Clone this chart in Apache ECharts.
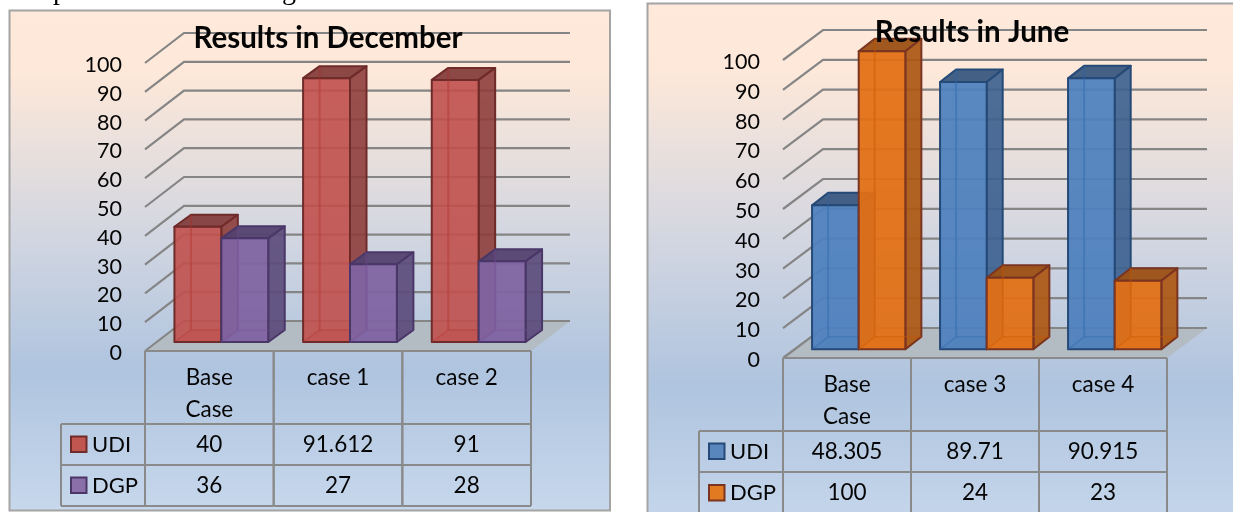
<!DOCTYPE html>
<html>
<head>
<meta charset="utf-8">
<title>Results in December and June</title>
<script src="https://cdn.jsdelivr.net/npm/echarts@6/dist/echarts.min.js"></script>
<style>html,body{margin:0;padding:0;background:#fff}#chart{width:1233px;height:512px}</style>
</head>
<body>
<div id="chart"></div>
<script>
// Values shown in the two data tables
const seriesNames = ['UDI', 'DGP'];
const decemberCategories = ['Base\nCase', 'case 1', 'case 2'];
const decemberUDI = [40, 91.612, 91];
const decemberDGP = [36, 27, 28];
const juneCategories = ['Base\nCase', 'case 3', 'case 4'];
const juneUDI = [48.305, 89.71, 90.915];
const juneDGP = [100, 24, 23];
const axisTicks = [0, 10, 20, 30, 40, 50, 60, 70, 80, 90, 100];

const FONT = 'Lato, "Open Sans", sans-serif';
const TEXT = '#050505';
const RULE = '#8a8a8a';

// Fill, side, top and outline shades for each bar colour
const red = { front: 'rgba(192,80,77,0.9)', side: 'rgba(142,62,60,0.9)', top: 'rgba(130,58,56,0.92)', line: '#6e2b29', inner: 'rgba(176,56,52,0.5)', floor: 'rgba(180,64,60,0.35)', solid: '#c0564f' };
const purple = { front: 'rgba(128,100,162,0.94)', side: 'rgba(92,76,124,0.92)', top: 'rgba(84,66,112,0.95)', line: '#4a3768', inner: 'rgba(120,80,150,0.5)', floor: 'rgba(110,80,145,0.35)', solid: '#8a6fa8' };
const blue = { front: 'rgba(79,129,189,0.94)', side: 'rgba(62,98,144,0.92)', top: 'rgba(58,88,128,0.95)', line: '#254a78', inner: 'rgba(50,105,170,0.55)', floor: 'rgba(60,110,170,0.35)', solid: '#5a86be' };
const orange = { front: 'rgba(226,112,20,0.94)', side: 'rgba(172,88,20,0.93)', top: 'rgba(156,80,20,0.95)', line: '#7a3420', inner: 'rgba(200,90,10,0.55)', floor: 'rgba(200,90,20,0.35)', solid: '#e27a22' };

const panels = [
  {
    title: 'Results in December', titleX: 323, titleY: 33,
    box: { x: 9.5, y: 10.5, width: 600.5, height: 500 },
    grid: { left: 145, top: 63, width: 386, height: 288 },
    categories: decemberCategories, rows: [decemberUDI, decemberDGP], palette: [red, purple],
    rowY: [424, 465, 506], legendX: 61, bottomOpen: false,
    wall: [39, -30], lift: 9, shift: 12, bar: [16.5, -12]
  },
  {
    title: 'Results in June', titleX: 967, titleY: 27,
    box: { x: 647.5, y: 3.5, width: 600, height: 530 },
    grid: { left: 783, top: 60, width: 384, height: 298 },
    categories: juneCategories, rows: [juneUDI, juneDGP], palette: [blue, orange],
    rowY: [431, 472, 514], legendX: 699, bottomOpen: true,
    wall: [40, -30], lift: 8.7, shift: 11.7, bar: [16, -12.5]
  }
];

const poly = (points, fill, stroke, lineWidth) => ({
  type: 'polygon', shape: { points },
  style: { fill: fill || 'none', stroke: stroke || 'none', lineWidth: lineWidth || 0, lineJoin: 'round' }
});
const rule = (x1, y1, x2, y2) => ({
  type: 'line', shape: { x1, y1, x2, y2 }, style: { stroke: RULE, lineWidth: 2 }
});

// Receding gridlines and the grey floor of the 3D plot
function renderWalls(p) {
  return (params, api) => {
    const v = api.value(1);
    const [x, y] = api.coord([0, v]);
    const left = p.grid.left;
    const right = left + p.grid.width;
    const [dx, dy] = p.wall;
    const children = [];
    if (v === 0) {
      children.push(poly([[left, y], [left + dx, y + dy], [right + dx, y + dy], [right, y]], '#b3bcc3'));
    }
    children.push({
      type: 'polyline',
      shape: { points: [[left, y], [left + dx, y + dy], [right + dx, y + dy]] },
      style: { fill: 'none', stroke: '#858585', lineWidth: 2.2 }
    });
    return { type: 'group', children };
  };
}

// One translucent 3D bar, placed from its category and value
function renderBar(p, seriesIndex) {
  const c = p.palette[seriesIndex];
  return (params, api) => {
    const cat = api.value(0);
    const base = api.coord([cat, 0]);
    const head = api.coord([cat, api.value(1)]);
    const band = api.size([1, 0])[0];
    const w = band * 0.3645;
    const x0 = base[0] + p.shift - w + seriesIndex * w;
    const x1 = x0 + w;
    const yb = base[1] - p.lift;
    const yt = head[1] - p.lift;
    const [dx, dy] = p.bar;
    return {
      type: 'group',
      children: [
        poly([[x0, yb], [x1, yb], [x1 + dx, yb + dy], [x0 + dx, yb + dy]], c.floor, c.inner, 1.5),
        { type: 'line', shape: { x1: x0 + dx, y1: yb + dy, x2: x0 + dx, y2: yt + dy }, style: { stroke: c.inner, lineWidth: 2 } },
        poly([[x0, yt], [x1, yt], [x1 + dx, yt + dy], [x0 + dx, yt + dy]], c.top, c.line, 2),
        poly([[x1, yb], [x1 + dx, yb + dy], [x1 + dx, yt + dy], [x1, yt]], c.side, c.line, 2),
        poly([[x0, yb], [x1, yb], [x1, yt], [x0, yt]], c.front, c.line, 2),
        { type: 'line', shape: { x1: x0 + dx, y1: yb + dy, x2: x0 + dx, y2: yt + dy }, style: { stroke: c.inner, lineWidth: 2, opacity: 0.7 } },
        { type: 'line', shape: { x1: x0, y1: yb, x2: x0 + dx, y2: yb + dy }, style: { stroke: c.inner, lineWidth: 1.5, opacity: 0.6 } },
        { type: 'line', shape: { x1: x0 + dx, y1: yb + dy, x2: x1 + dx, y2: yb + dy }, style: { stroke: c.inner, lineWidth: 1.5, opacity: 0.6 } }
      ]
    };
  };
}

const cellText = (text, x, y) => ({
  type: 'text',
  style: { text, x, y, font: '22.5px ' + FONT, fill: TEXT, align: 'center', verticalAlign: 'middle', lineHeight: 32 }
});

// One column of the data table under each category
function renderTableColumn(p) {
  return (params, api) => {
    const i = api.value(0);
    const [cx, y0] = api.coord([i, 0]);
    const band = api.size([1, 0])[0];
    const xl = cx - band / 2;
    const xr = cx + band / 2;
    const [r1, r2, r3] = p.rowY;
    const lines = p.categories[i].split('\n');
    const children = [
      rule(xl, y0, xr, y0),
      rule(xl, y0, xl, r3),
      rule(xr, y0, xr, r3),
      rule(xl, r1, xr, r1),
      rule(xl, r2, xr, r2)
    ];
    if (!p.bottomOpen) children.push(rule(xl, r3, xr, r3));
    lines.forEach((t, k) => children.push(cellText(t, cx, y0 + 27 + k * 32)));
    children.push(cellText(String(p.rows[0][i]), cx, (r1 + r2) / 2));
    children.push(cellText(String(p.rows[1][i]), cx, (r2 + r3) / 2));
    return { type: 'group', children };
  };
}

// Panel backgrounds, the legend column of each table and the clipped line of text above
function panelGraphics(p) {
  const { x, y, width, height } = p.box;
  const [r1, r2, r3] = p.rowY;
  const lx = p.legendX;
  const gx = p.grid.left;
  const items = [{
    type: 'rect', z: -5, shape: { x, y, width, height },
    style: {
      stroke: '#a4a4a4', lineWidth: 2,
      fill: new echarts.graphic.LinearGradient(0, 0, 0, 1, [
        { offset: 0, color: '#fee9da' },
        { offset: 0.13, color: '#fde8d9' },
        { offset: 0.45, color: '#d2d6e1' },
        { offset: 0.72, color: '#afc4df' },
        { offset: 1, color: '#c7d8ec' }
      ])
    }
  }];
  const hLines = p.bottomOpen ? [r1, r2] : [r1, r2, r3];
  hLines.forEach(ry => items.push({ type: 'line', z: 5, shape: { x1: lx, y1: ry, x2: gx, y2: ry }, style: { stroke: RULE, lineWidth: 2 } }));
  items.push({ type: 'line', z: 5, shape: { x1: lx, y1: r1, x2: lx, y2: r3 }, style: { stroke: RULE, lineWidth: 2 } });
  seriesNames.forEach((name, k) => {
    const cy = k === 0 ? (r1 + r2) / 2 : (r2 + r3) / 2;
    const c = p.palette[k];
    items.push({
      type: 'rect', z: 5, shape: { x: lx + 10, y: cy - 8, width: 15.5, height: 15.5 },
      style: { fill: c.solid, stroke: c.line, lineWidth: 2 }
    });
    items.push({
      type: 'text', z: 5, x: lx + 31, y: cy,
      style: { text: name, font: '22px ' + FONT, fill: TEXT, align: 'left', verticalAlign: 'middle' }
    });
  });
  return items;
}

const option = {
  animation: false,
  backgroundColor: '#ffffff',
  title: panels.map(p => ({
    text: p.title, left: p.titleX, top: p.titleY, textAlign: 'center', textVerticalAlign: 'middle', z: 20,
    textStyle: { fontFamily: FONT, fontWeight: 'bold', fontSize: 29.5, color: '#050505' }
  })),
  grid: panels.map(p => p.grid),
  xAxis: panels.map((p, i) => ({
    type: 'category', gridIndex: i, data: p.categories,
    axisLine: { show: false }, axisTick: { show: false }, axisLabel: { show: false }, splitLine: { show: false }
  })),
  yAxis: panels.map((p, i) => ({
    type: 'value', gridIndex: i, min: 0, max: 100, interval: 10,
    axisLine: { show: false }, axisTick: { show: false }, splitLine: { show: false },
    axisLabel: { margin: 23, color: TEXT, fontFamily: FONT, fontSize: 21.5, verticalAlign: 'top', lineHeight: 28, padding: [-12, 0, 0, 0] }
  })),
  graphic: [
    ...panels.flatMap(panelGraphics),
    { type: 'text', x: 53, y: -22, style: { text: 'p', font: '28px "Liberation Serif"', fill: '#000', verticalAlign: 'top' } },
    { type: 'text', x: 282, y: -22, style: { text: 'g', font: '28px "Liberation Serif"', fill: '#000', verticalAlign: 'top' } }
  ],
  series: panels.flatMap((p, i) => {
    const on = { coordinateSystem: 'cartesian2d', xAxisIndex: i, yAxisIndex: i, encode: { x: 0, y: 1 }, silent: true };
    return [
      { ...on, type: 'custom', name: 'grid', z: 1, renderItem: renderWalls(p), data: axisTicks.map(t => [0, t]) },
      { ...on, type: 'custom', name: seriesNames[0], z: 2, renderItem: renderBar(p, 0), data: p.rows[0].map((v, k) => [k, v]) },
      { ...on, type: 'custom', name: seriesNames[1], z: 3, renderItem: renderBar(p, 1), data: p.rows[1].map((v, k) => [k, v]) },
      { ...on, type: 'custom', name: 'table', z: 4, renderItem: renderTableColumn(p), data: p.categories.map((c, k) => [k, 0]) }
    ];
  })
};

echarts.init(document.getElementById('chart'), null, { renderer: 'canvas' }).setOption(option);
</script>
</body>
</html>
